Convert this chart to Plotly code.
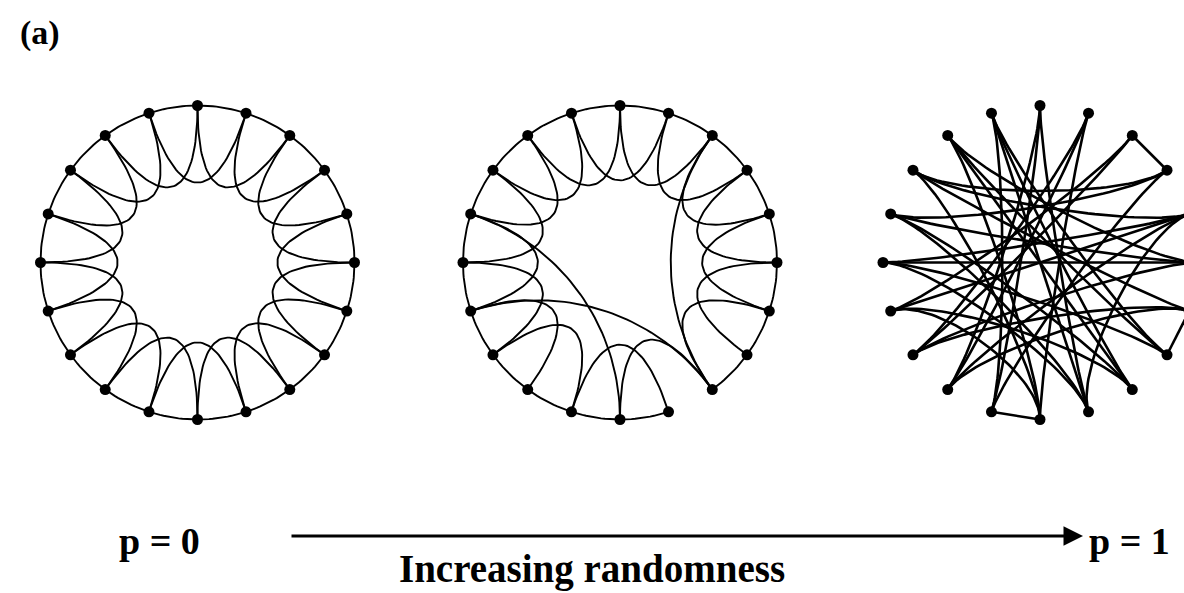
import numpy as np
import plotly.graph_objects as go

# ---------------- data ----------------
N_NODES = 20
ring_offsets = [1, 2]                      # regular lattice: k = 4 (2 neighbours per side)

# partially rewired network (middle): lattice edges removed / shortcuts added
rewired_removed = [(8, 9), (7, 9), (10, 12)]
rewired_added = [(8, 14), (10, 16), (2, 8)]

# fully random network (right)
random_edges = [
    (0, 11), (0, 9), (1, 10), (1, 12), (1, 13), (2, 3), (2, 13), (2, 14),
    (3, 16), (3, 11), (4, 14), (4, 17), (4, 9), (5, 15), (5, 16), (5, 18),
    (6, 7), (6, 17), (6, 13), (6, 12), (7, 18), (7, 15), (8, 19), (8, 16),
    (9, 19), (9, 15), (10, 11), (10, 18), (10, 14), (11, 19), (13, 5), (14, 8),
    (16, 9), (17, 10), (18, 8), (19, 7), (12, 4), (17, 3), (15, 4), (12, 0),
]

panel_label = "(a)"
p_labels = ["p = 0", "p = 1"]
caption = "Increasing randomness"

# ---------------- geometry ----------------
W, H = 1184, 593
CENTERS = [(197.5, 262.5), (620.0, 262.5), (1040.0, 262.5)]
R = 157.0


def angle(i):
    return np.pi / 2 - 2 * np.pi * i / N_NODES


def node_xy(c, i):
    a = angle(i)
    return c[0] + R * np.cos(a), c[1] - R * np.sin(a)


def arc_pts(c, i, j, n=14):
    a0 = angle(i)
    d = ((j - i) % N_NODES)
    if d > N_NODES / 2:
        d -= N_NODES
    a1 = a0 - 2 * np.pi * d / N_NODES
    t = np.linspace(a0, a1, n)
    return list(c[0] + R * np.cos(t)), list(c[1] - R * np.sin(t))


def bez_pts(c, i, j, pull, n=50):
    p0 = np.array(node_xy(c, i))
    p3 = np.array(node_xy(c, j))
    cc = np.array(c)
    p1 = cc + pull * (p0 - cc)
    p2 = cc + pull * (p3 - cc)
    t = np.linspace(0, 1, n)[:, None]
    pts = ((1 - t) ** 3) * p0 + 3 * ((1 - t) ** 2) * t * p1 + 3 * (1 - t) * t ** 2 * p2 + t ** 3 * p3
    return list(pts[:, 0]), list(pts[:, 1])


def is_adjacent(i, j):
    return (i - j) % N_NODES in (1, N_NODES - 1)


lattice = [(i, (i + k) % N_NODES) for i in range(N_NODES) for k in ring_offsets]
norm = lambda e: tuple(sorted(e))
removed = {norm(e) for e in rewired_removed}
middle_edges = [e for e in lattice if norm(e) not in removed] + rewired_added

networks = [
    (CENTERS[0], lattice, 0.38, "arc", 1.9, 11),
    (CENTERS[1], middle_edges, 0.40, "arc", 1.9, 11),
    (CENTERS[2], random_edges, 0.70, "line", 2.6, 11),
]

fig = go.Figure()
for c, edges, pull, adj_style, lw, ms in networks:
    xs, ys = [], []
    for (i, j) in edges:
        if is_adjacent(i, j):
            if adj_style == "arc":
                ex, ey = arc_pts(c, i, j)
            else:
                (x0, y0), (x1, y1) = node_xy(c, i), node_xy(c, j)
                ex, ey = [x0, x1], [y0, y1]
        else:
            ex, ey = bez_pts(c, i, j, pull)
        xs += ex + [None]
        ys += ey + [None]
    fig.add_trace(go.Scatter(x=xs, y=ys, mode="lines",
                             line=dict(color="black", width=lw),
                             hoverinfo="skip", showlegend=False))
    nx, ny = zip(*[node_xy(c, i) for i in range(N_NODES)])
    fig.add_trace(go.Scatter(x=list(nx), y=list(ny), mode="markers",
                             marker=dict(color="black", size=ms),
                             hoverinfo="skip", showlegend=False))

serif = "Liberation Serif"
ann = [
    dict(x=40, y=33, text="<b>%s</b>" % panel_label, size=34),
    dict(x=159, y=541, text="<b>%s</b>" % p_labels[0], size=38),
    dict(x=1129, y=541, text="<b>%s</b>" % p_labels[1], size=38),
    dict(x=592, y=569, text="<b>%s</b>" % caption, size=39),
]
for a in ann:
    fig.add_annotation(x=a["x"], y=a["y"], xref="x", yref="y", text=a["text"],
                       showarrow=False, xanchor="center", yanchor="middle",
                       font=dict(family=serif, size=a["size"], color="black"))

fig.add_annotation(x=1083, y=536, ax=290, ay=536, xref="x", yref="y",
                   axref="x", ayref="y", text="", showarrow=True,
                   arrowhead=2, arrowsize=1.3, arrowwidth=3, arrowcolor="black")

fig.update_layout(
    width=W, height=H, margin=dict(l=0, r=0, t=0, b=0),
    paper_bgcolor="white", plot_bgcolor="white", showlegend=False,
    xaxis=dict(range=[0, W], visible=False, fixedrange=True),
    yaxis=dict(range=[H, 0], visible=False, fixedrange=True),
)
fig.write_html("out.html", config={"displayModeBar": False},
               post_script="document.body.style.margin='0';document.body.style.overflow='hidden';")
